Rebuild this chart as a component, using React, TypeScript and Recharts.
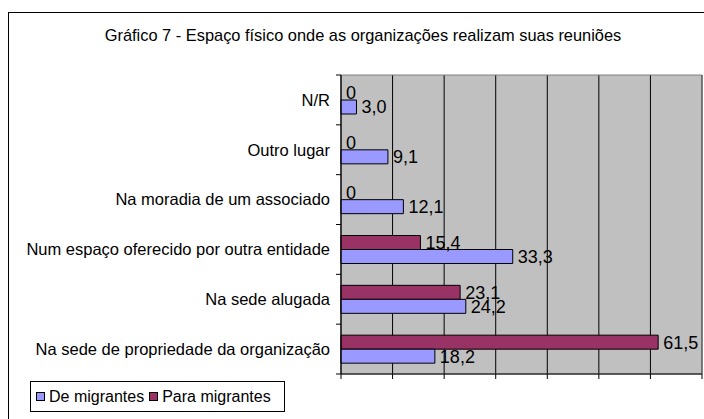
import React from 'react';
import { BarChart, Bar, XAxis, YAxis, CartesianGrid, LabelList, Legend, ReferenceArea } from 'recharts';

const title = 'Gráfico 7 - Espaço físico onde as organizações realizam suas reuniões';
const categories = [
  'N/R',
  'Outro lugar',
  'Na moradia de um associado',
  'Num espaço oferecido por outra entidade',
  'Na sede alugada',
  'Na sede de propriedade da organização',
];
const deMigrantes = [3.0, 9.1, 12.1, 33.3, 24.2, 18.2];
const paraMigrantes = [0, 0, 0, 15.4, 23.1, 61.5];
const seriesNames = ['De migrantes', 'Para migrantes'];
const xTicks = [0, 10, 20, 30, 40, 50, 60, 70];

const data = categories.map((name, i) => ({ name, de: deMigrantes[i], para: paraMigrantes[i] }));

const W = 704;
const H = 419;
const PLOT_LEFT = 341;
const PLOT_TOP = 75;
const PLOT_BOTTOM = 374;
const PLOT_RIGHT = 702;
const XAXIS_H = 20;
const BAND = (PLOT_BOTTOM - PLOT_TOP) / categories.length;
const BAR = 14;
const FONT = '"Liberation Sans", Arial, sans-serif';
const BLUE = '#9999FF';
const MAROON = '#993366';
const LABEL_FS = 18;

const fmt = (v: any) => {
  const n = Number(v);
  if (n === 0) return '0';
  return n.toFixed(1).replace('.', ',');
};

const labelText = (key: string, x: number, y: number, value: any) => (
  <text key={key} x={x} y={y} dy="0.355em" fontSize={LABEL_FS} fontFamily={FONT} fill="#000">
    {fmt(value)}
  </text>
);

const renderParaLabel = (props: any) => {
  const { x, y, width, height, value } = props;
  if (value === undefined || value === null) return null;
  return labelText('p', Number(x) + Number(width || 0) + 5, Number(y) + Number(height || 0) / 2, value);
};

// The "De migrantes" label; it also writes the "0" of an empty "Para migrantes" bar
// (Recharts skips labels of zero-length bars), placed in the slot just above.
const renderDeLabel = (props: any) => {
  const { x, y, width, height, value } = props;
  if (value === undefined || value === null) return null;
  let idx = typeof props.index === 'number' ? props.index : -1;
  if (idx < 0 || deMigrantes[idx] !== Number(value)) idx = deMigrantes.indexOf(Number(value));
  const cy = Number(y) + Number(height || 0) / 2;
  const out = [labelText('d', Number(x) + Number(width || 0) + 5, cy, value)];
  if (idx >= 0 && paraMigrantes[idx] === 0) {
    out.push(labelText('z', Number(x) + 5, cy - BAR, paraMigrantes[idx]));
  }
  return <g>{out}</g>;
};

function YTick(props: any) {
  const { y, payload } = props;
  const isFirst = payload && payload.value === categories[0];
  return (
    <g>
      <line x1={PLOT_LEFT - 5} x2={PLOT_LEFT} y1={y + BAND / 2} y2={y + BAND / 2} stroke="#000" />
      {isFirst && (
        <line x1={PLOT_LEFT - 5} x2={PLOT_LEFT} y1={y - BAND / 2} y2={y - BAND / 2} stroke="#000" />
      )}
      <text x={PLOT_LEFT - 11} y={y} dy="0.355em" textAnchor="end" fontSize={16.5} fontFamily={FONT} fill="#000">
        {payload.value}
      </text>
    </g>
  );
}

function LegendBox() {
  const items = [
    { name: seriesNames[0], color: BLUE },
    { name: seriesNames[1], color: MAROON },
  ];
  return (
    <div
      style={{
        boxSizing: 'border-box',
        width: 255,
        height: 31,
        border: '1px solid #000',
        background: '#fff',
        display: 'flex',
        alignItems: 'center',
        paddingLeft: 5,
        fontFamily: FONT,
        fontSize: 16,
        color: '#000',
        whiteSpace: 'nowrap',
      }}
    >
      {items.map((it, i) => (
        <span key={it.name} style={{ display: 'inline-flex', alignItems: 'center', marginRight: i === 0 ? 5 : 0 }}>
          <span
            style={{
              display: 'inline-block',
              boxSizing: 'border-box',
              width: 9,
              height: 9,
              background: it.color,
              border: '1px solid #000',
              marginRight: 4,
            }}
          />
          {it.name}
        </span>
      ))}
    </div>
  );
}

export default function App() {
  return (
    <div
      style={{
        position: 'fixed',
        left: 0,
        top: 0,
        width: W,
        height: H,
        overflow: 'hidden',
        background: '#fff',
      }}
    >
      <div
        style={{
          position: 'absolute',
          left: 8,
          top: 12,
          width: 800,
          height: 600,
          border: '1px solid #000',
          boxSizing: 'border-box',
        }}
      />
      <div
        style={{
          position: 'absolute',
          left: 0,
          width: 726,
          top: 26,
          textAlign: 'center',
          fontFamily: FONT,
          fontSize: 16.4,
          lineHeight: '18px',
          color: '#000',
        }}
      >
        {title}
      </div>
      <div style={{ position: 'absolute', left: 0, top: 0 }}>
        <BarChart
          width={W}
          height={H}
          data={data}
          layout="vertical"
          barGap={0}
          margin={{ top: PLOT_TOP, right: W - PLOT_RIGHT, bottom: H - PLOT_BOTTOM - XAXIS_H, left: 0 }}
        >
          <CartesianGrid horizontal={false} vertical={true} stroke="#000" fill="#C0C0C0" />
          <ReferenceArea x1={0} x2={70} fill="none" stroke="#808080" ifOverflow="visible" />
          <Bar dataKey="para" name={seriesNames[1]} fill={MAROON} stroke="#000" strokeWidth={1} barSize={BAR} isAnimationActive={false}>
            <LabelList dataKey="para" content={renderParaLabel} />
          </Bar>
          <Bar dataKey="de" name={seriesNames[0]} fill={BLUE} stroke="#000" strokeWidth={1} barSize={BAR} isAnimationActive={false}>
            <LabelList dataKey="de" content={renderDeLabel} />
          </Bar>
          <XAxis
            type="number"
            domain={[0, 70]}
            ticks={xTicks}
            interval={0}
            height={XAXIS_H}
            tickSize={5}
            stroke="#000"
            axisLine={{ stroke: '#000' }}
            tickLine={{ stroke: '#000' }}
            tick={() => <g />}
          />
          <YAxis
            type="category"
            dataKey="name"
            width={PLOT_LEFT}
            interval={0}
            axisLine={{ stroke: '#000' }}
            tickLine={false}
            tick={<YTick />}
          />
          <Legend
            verticalAlign="middle"
            align="center"
            layout="horizontal"
            wrapperStyle={{ top: 381, left: 30, width: 255, height: 31 }}
            content={() => <LegendBox />}
          />
        </BarChart>
      </div>
    </div>
  );
}
